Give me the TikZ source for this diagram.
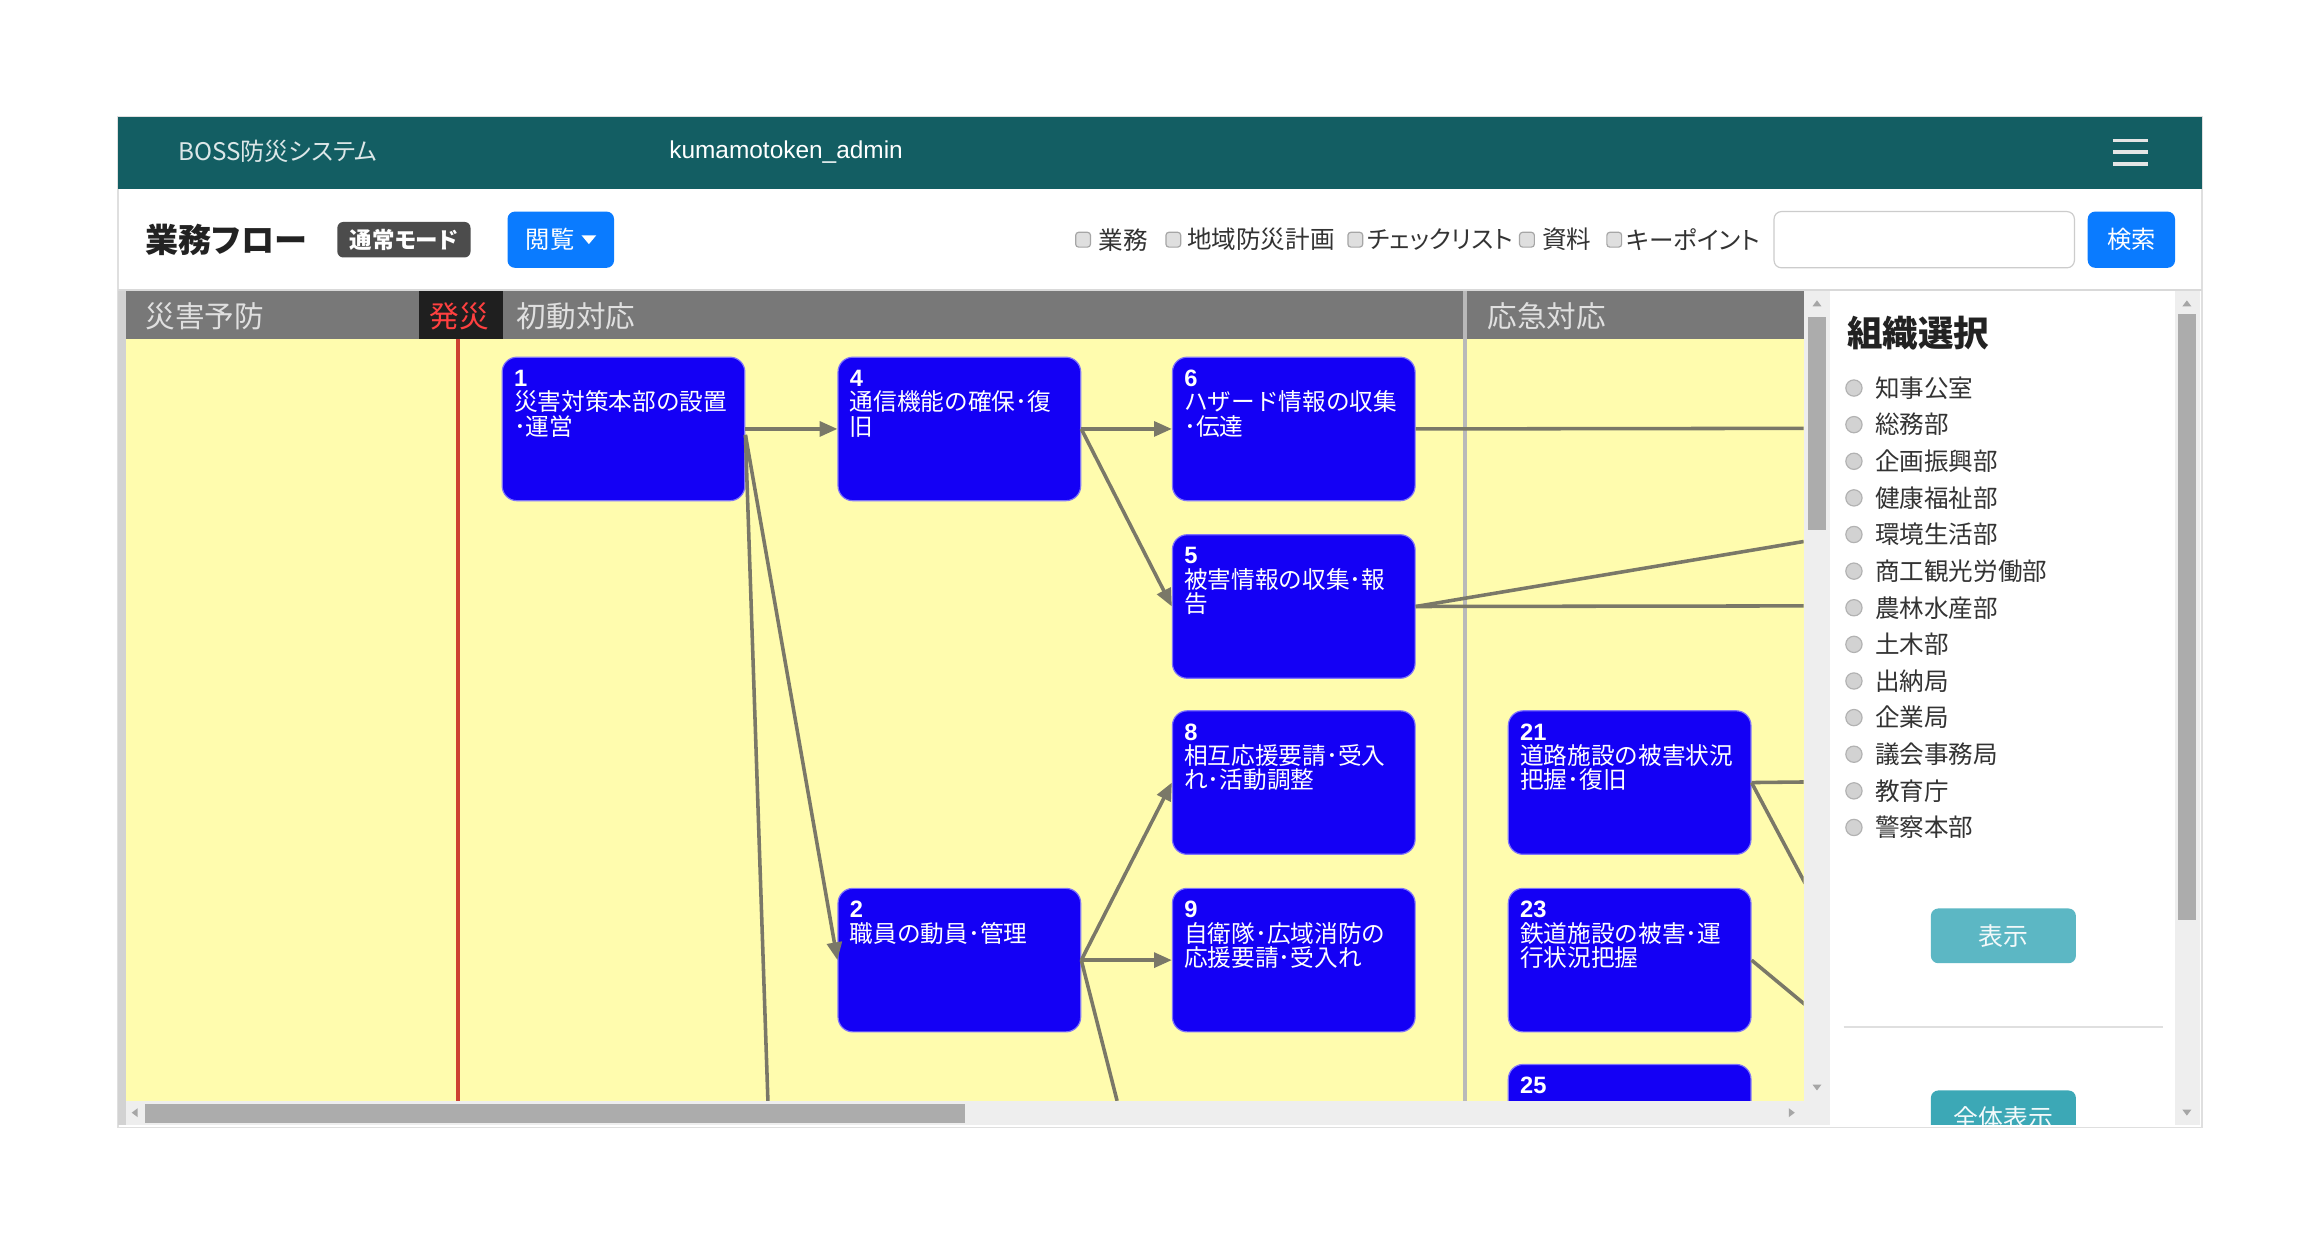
\documentclass[tikz,border=0pt]{standalone}
\usepackage{fontspec}
\setmainfont{Liberation Sans}
\newfontfamily\jp{Noto Sans CJK JP}
\newfontfamily\jpp{Noto Sans CJK JP}[RawFeature=+palt]
\usetikzlibrary{arrows.meta}
\definecolor{teal1}{RGB}{19,94,99}
\definecolor{yel}{RGB}{255,252,174}
\definecolor{tblue}{RGB}{20,0,245}
\definecolor{edgec}{RGB}{122,120,104}
\definecolor{lanegray}{RGB}{120,120,120}
\definecolor{btnblue}{RGB}{10,123,255}
\definecolor{btnteal}{RGB}{92,183,196}
\definecolor{btnteal2}{RGB}{60,168,182}
\definecolor{barbg}{RGB}{238,238,238}
\definecolor{thumbc}{RGB}{172,172,172}
\definecolor{redline}{RGB}{205,65,50}
\definecolor{darktxt}{RGB}{34,34,34}
\definecolor{bodytxt}{RGB}{51,51,51}
\begin{document}
\begin{tikzpicture}[x=0.5pt,y=-0.5pt,
  task/.style={draw=tblue!55!white, line width=0.4pt, fill=tblue, rounded corners=5pt,
    minimum width=82pt, minimum height=48.5pt, anchor=north west, inner sep=0pt},
  ttext/.style={anchor=north west, inner sep=0pt, align=left, text=white,
    font=\fontsize{8}{8.25}\selectfont\jp},
  edge/.style={draw=edgec, line width=1.2pt},
  arr/.style={edge, -{Triangle[length=6pt,width=5pt]}},
  lane/.style={anchor=west, inner sep=0pt, text=white!88!black, font=\fontsize{10}{12}\selectfont\jp},
  chk/.style={draw=gray!70, fill=gray!25, rounded corners=1pt, minimum size=5pt, inner sep=0pt},
  chklbl/.style={anchor=west, inner sep=0pt, text=bodytxt, font=\fontsize{8.3}{10}\selectfont\jpp},
  radio/.style={circle, draw=gray!60, fill=gray!35, minimum size=5.5pt, inner sep=0pt},
  item/.style={anchor=west, inner sep=0pt, text=bodytxt, font=\fontsize{8.3}{10}\selectfont\jpp},
  scrtri/.style={fill=gray!70}
]
\useasboundingbox (0,0) rectangle (1568,847);
\fill[white] (0,0) rectangle (1568,847);
% app frame
\draw[gray!25, line width=0.6pt] (80,79) rectangle (1488,762);
% header
\fill[teal1] (80,79) rectangle (1488,128);
\node[anchor=west, inner sep=0pt, text=white!85!teal1, font=\fontsize{8.2}{10}\selectfont\jpp] (brand) at (120,102) {BOSS防災システム};
\node[anchor=west, inner sep=0pt, text=white, font=\fontsize{8.25}{10}\selectfont] (user) at (452,103) {kumamotoken\_admin};
\foreach \yy in {95,103,111} \draw[white!90!black, line width=1.3pt] (1428,\yy) -- (1452,\yy);
% toolbar
\node[anchor=west, inner sep=0pt, text=darktxt, font=\fontsize{11.2}{13}\selectfont\jpp\bfseries] (title) at (98,162) {業務フロー};
\node[fill=gray!60!black, rounded corners=2pt, minimum width=45pt, minimum height=12pt, inner sep=0pt,
  text=white, font=\fontsize{7.6}{9}\selectfont\jpp\bfseries] (mode) at (273,162) {通常モード};
\node[fill=btnblue, rounded corners=2.5pt, minimum width=36pt, minimum height=19pt, inner sep=0pt] (view) at (379,162) {};
\node[anchor=west, inner sep=0pt, text=white, font=\fontsize{8.2}{10}\selectfont\jpp] (viewt) at (355,162) {閲覧};
\fill[white] (393,159) -- (403,159) -- (398,165) -- cycle;
\node[chk] (c1) at (732,162) {};
\node[chklbl] (l1) at (742,162) {業務};
\node[chk] (c2) at (793,162) {};
\node[chklbl] (l2) at (802,162) {地域防災計画};
\node[chk] (c3) at (916,162) {};
\node[chklbl] (l3) at (924,162) {チェックリスト};
\node[chk] (c4) at (1032,162) {};
\node[chklbl] (l4) at (1042,162) {資料};
\node[chk] (c5) at (1091,162) {};
\node[chklbl] (l5) at (1099,162) {キーポイント};
\node[draw=gray!40, fill=white, rounded corners=2.5pt, minimum width=101.5pt, minimum height=19pt, inner sep=0pt] (search) at (1300.5,162) {};
\node[fill=btnblue, rounded corners=2.5pt, minimum width=29.5pt, minimum height=19pt, inner sep=0pt,
  text=white, font=\fontsize{8.2}{10}\selectfont\jpp] (go) at (1440.5,162) {検索};
\draw[gray!30, line width=1pt] (80,196) -- (1488,196);
% left panel
\fill[gray!35] (80,197) rectangle (85,760);
\fill[lanegray] (85,197) rectangle (1219,229);
\fill[black!88] (283,197) rectangle (340,229);
\fill[yel] (85,229) rectangle (1219,744);
\node[lane] (ln1) at (98,214) {災害予防};
\node[lane, text=red!75!white] (ln2) at (290,214) {発災};
\node[lane] (ln3) at (349,214) {初動対応};
\node[lane] (ln4) at (1005,214) {応急対応};
\draw[gray!55, line width=1.3pt] (990,197) -- (990,744);
\draw[redline, line width=1.5pt] (309.5,229) -- (309.5,744);
\begin{scope}
\clip (85,229) rectangle (1219,744);
\node[task] (n1) at (339,241) {};
\node[task] (n4) at (566,241) {};
\node[task] (n6) at (792,241) {};
\node[task] (n5) at (792,361) {};
\node[task] (n8) at (792,480) {};
\node[task] (n2) at (566,600) {};
\node[task] (n9) at (792,600) {};
\node[task] (n21) at (1019,480) {};
\node[task] (n23) at (1019,600) {};
\node[task] (n25) at (1019,719) {};
\node[ttext] (t1) at ([xshift=4pt,yshift=-4.3pt]n1.north west) {{\rmfamily\bfseries 1}\\災害対策本部の設置\\･運営};
\node[ttext] (t4) at ([xshift=4pt,yshift=-4.3pt]n4.north west) {{\rmfamily\bfseries 4}\\通信機能の確保･復\\旧};
\node[ttext] (t6) at ([xshift=4pt,yshift=-4.3pt]n6.north west) {{\rmfamily\bfseries 6}\\ハザード情報の収集\\･伝達};
\node[ttext] (t5) at ([xshift=4pt,yshift=-4.3pt]n5.north west) {{\rmfamily\bfseries 5}\\被害情報の収集･報\\告};
\node[ttext] (t8) at ([xshift=4pt,yshift=-4.3pt]n8.north west) {{\rmfamily\bfseries 8}\\相互応援要請･受入\\れ･活動調整};
\node[ttext] (t2) at ([xshift=4pt,yshift=-4.3pt]n2.north west) {{\rmfamily\bfseries 2}\\職員の動員･管理};
\node[ttext] (t9) at ([xshift=4pt,yshift=-4.3pt]n9.north west) {{\rmfamily\bfseries 9}\\自衛隊･広域消防の\\応援要請･受入れ};
\node[ttext] (t21) at ([xshift=4pt,yshift=-4.3pt]n21.north west) {{\rmfamily\bfseries 21}\\道路施設の被害状況\\把握･復旧};
\node[ttext] (t23) at ([xshift=4pt,yshift=-4.3pt]n23.north west) {{\rmfamily\bfseries 23}\\鉄道施設の被害･運\\行状況把握};
\node[ttext] (t25) at ([xshift=4pt,yshift=-4.3pt]n25.north west) {{\rmfamily\bfseries 25}};
\coordinate (a1) at (519,744);
\coordinate (a2) at (755,744);
\coordinate (a6) at (1219,289.5);
\coordinate (a5u) at (1219,366);
\coordinate (a5) at (1219,409.5);
\coordinate (a21) at (1219,528.5);
\coordinate (a21d) at (1220,597);
\coordinate (a23d) at (1220,679);
\draw[arr] (n1.east) -- (n4.west);
\draw[arr] (n4.east) -- (n6.west);
\draw[arr] (n4.east) -- (n5.west);
\draw[arr] ([yshift=-2pt]n1.east) -- (n2.west);
\draw[edge] ([yshift=-2pt]n1.east) -- (a1);
\draw[arr] (n2.east) -- (n8.west);
\draw[arr] (n2.east) -- (n9.west);
\draw[edge] (n2.east) -- (a2);
\draw[edge] (n6.east) -- (a6);
\draw[edge] (n5.east) -- (a5u);
\draw[edge] (n5.east) -- (a5);
\draw[edge] (n21.east) -- (a21);
\draw[edge] (n21.east) -- (a21d);
\draw[edge] (n23.east) -- (a23d);
\end{scope}
% left panel scrollbars
\fill[barbg] (1219,197) rectangle (1237,760);
\fill[thumbc] (1222,214) rectangle (1234,358);
\fill[scrtri] (1225,207) -- (1231,207) -- (1228,203) -- cycle;
\fill[scrtri] (1225,733) -- (1231,733) -- (1228,737) -- cycle;
\fill[barbg] (85,744) rectangle (1219,760);
\fill[thumbc] (98,746) rectangle (652,759);
\fill[scrtri] (93,749) -- (93,755) -- (89,752) -- cycle;
\fill[scrtri] (1209,749) -- (1209,755) -- (1213,752) -- cycle;
% right panel
\node[anchor=west, inner sep=0pt, text=darktxt, font=\fontsize{12}{14}\selectfont\jpp\bfseries] (org) at (1248,225) {組織選択};
\foreach \t [count=\i] in {知事公室,総務部,企画振興部,健康福祉部,環境生活部,商工観光労働部,農林水産部,土木部,出納局,企業局,議会事務局,教育庁,警察本部}{
  \node[radio] (rc\i) at (1253,237.5+24.75*\i) {};
  \node[item] (ri\i) at (1267,237.5+24.75*\i) {\t};
}
\node[fill=btnteal, rounded corners=2.5pt, minimum width=49pt, minimum height=18.5pt, inner sep=0pt,
  text=white!92!btnteal, font=\fontsize{8.4}{10}\selectfont\jpp] (show) at (1354,632.5) {表示};
\draw[gray!25, line width=0.8pt] (1246,694) -- (1462,694);
\begin{scope}
\clip (1238,197) rectangle (1470,760);
\node[fill=btnteal2, rounded corners=2.5pt, minimum width=49pt, minimum height=18.5pt, inner sep=0pt,
  text=white!92!btnteal, font=\fontsize{8.4}{10}\selectfont\jpp] (all) at (1354,755.5) {全体表示};
\end{scope}
\fill[barbg] (1470,197) rectangle (1487,760);
\fill[thumbc] (1472,212) rectangle (1484,622);
\fill[scrtri] (1475,207) -- (1481,207) -- (1478,203) -- cycle;
\fill[scrtri] (1475,750) -- (1481,750) -- (1478,754) -- cycle;
\end{tikzpicture}
\end{document}
